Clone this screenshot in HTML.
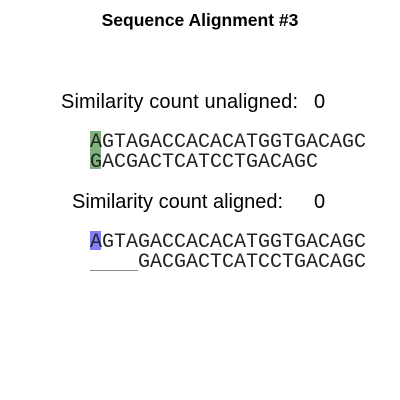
<!DOCTYPE html>
<html><head><meta charset="utf-8"><style>
html,body{margin:0;padding:0;background:#fff;}
svg{display:block;}
.mono{font-family:"Nimbus Mono PS","Courier","Liberation Mono",monospace;font-size:20px;fill:#222;}
.lab{font-family:"Liberation Sans",sans-serif;font-size:20px;fill:#000;}
</style></head><body>
<svg width="400" height="400">
<rect width="400" height="400" fill="#fff"/>
<text x="200" y="26" text-anchor="middle" font-family="Liberation Sans, sans-serif" font-weight="bold" font-size="17.5">Sequence Alignment #3</text>
<text class="lab" x="61" y="108" textLength="237">Similarity count unaligned:</text>
<text class="lab" x="314" y="108">0</text>
<rect x="90" y="131" width="11" height="38" fill="#7fb27f"/>
<text class="mono" x="90" y="147" textLength="276">AGTAGACCACACATGGTGACAGC</text>
<text class="mono" x="90" y="167" textLength="228">GACGACTCATCCTGACAGC</text>
<text class="lab" x="72" y="208" textLength="211">Similarity count aligned:</text>
<text class="lab" x="314" y="208">0</text>
<rect x="90" y="231" width="11" height="19" fill="#8080f5"/>
<text class="mono" x="90" y="247" textLength="276">AGTAGACCACACATGGTGACAGC</text>
<text class="mono" x="138" y="267" textLength="228">GACGACTCATCCTGACAGC</text>
<line x1="90" y1="270.5" x2="138" y2="270.5" stroke="#888" stroke-width="1"/>
</svg>
</body></html>
